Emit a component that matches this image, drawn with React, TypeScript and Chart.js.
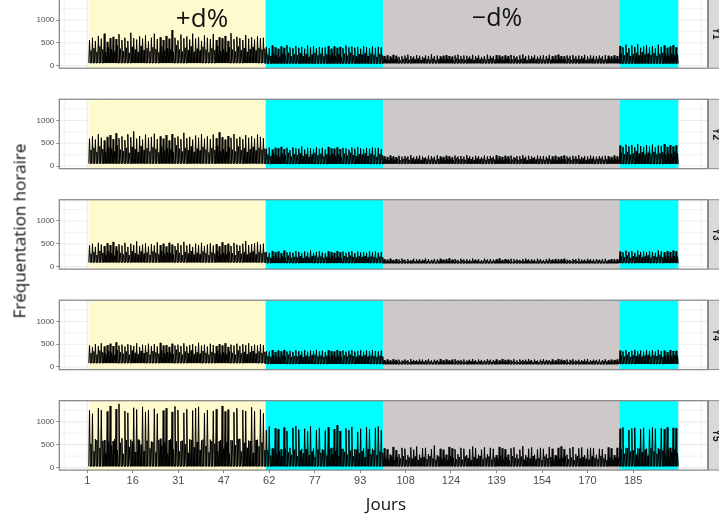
import React, { useEffect, useRef } from 'react';
import { Chart, registerables } from 'chart.js';
Chart.register(...registerables);

// ---------- data ----------
const PANEL_NAMES = ['Y1', 'Y2', 'Y3', 'Y4', 'Y5'];
const PHASE_BOUNDS = [0, 60, 100, 180, 200]; // day index boundaries
const PHASE_COLORS = ['#FFFACD', '#00FFFF', '#CDC9C9', '#00FFFF'];
const X_TICK_POS = [-0.5, 14.9, 30.4, 45.8, 61.2, 76.7, 92.1, 107.5, 122.9, 138.4, 153.8, 169.2, 184.7];
const X_TICK_LABELS = ['1', '16', '31', '47', '62', '77', '93', '108', '124', '139', '154', '170', '185'];
const Y_TICKS = [0, 500, 1000];
const ANNOT_UP = '+d%';
const ANNOT_DOWN = '\u2212d%';

// first daily peak (A) and second daily peak (B) per phase, night level per phase
const Y1_YELLOW = [560,610,540,650,590,700,520,600,630,580,690,560,610,540,720,600,570,640,590,660,530,610,700,580,620,560,650,590,780,610,550,680,600,640,570,700,590,620,540,660,610,580,690,560,620,600,650,540,710,580,630,600,560,670,590,620,570,640,600,610];
const Y1_YELLOW_B = [330,380,300,420,350,290,400,360,310,440,370,320,390,280,410,350,300,430,340,380,310,400,360,290,420,330,380,350,300,450,360,310,390,340,420,300,370,330,410,350,290,380,340,430,320,360,300,400,350,310,420,340,380,300,360,410,330,390,350,370];
const Y1_CYAN = [410,380,440,400,370,420,390,450,400,380,430,390,410,370,440,400,420,380,410,390,400,430,370,420,390,410,380,440,400,420,390,410,370,430,400,380,420,390,410,400];
const Y1_CYAN_B = [240,210,270,230,190,260,220,280,200,250,230,270,210,250,190,240,280,220,260,200,250,230,270,210,240,190,260,220,280,230,200,250,240,270,210,260,230,190,250,220];
const Y1_GRAY = [210,225,200,235,215,190,205,220,240,210,200,230,215,195,225,210,245,205,220,200,215,230,210,195,225,240,205,220,215,200,235,210,225,190,210,240,215,205,230,220,200,225,210,235,215,200,225,245,205,220,210,230,195,215,225,210,235,205,220,240,210,200,225,215,230,205,220,210,235,200,225,215,210,220,205,230,215,200,225,210];
const Y1_GRAY_B = [140,120,160,130,150,115,145,165,125,155,135,150,120,160,140,130,155,115,145,165,130,150,140,120,160,135,145,125,155,140,120,160,135,150,125,145,165,130,140,155,115,150,140,130,160,125,145,155,120,140,165,130,150,140,125,155,135,145,120,160,140,130,155,125,150,145,135,160,120,140,150,130,145,160,125,140,155,135,150,130];
const Y1_CYAN2 = [430,400,460,380,440,410,470,390,420,450,400,430,380,460,410,440,390,420,450,400];
const Y1_CYAN2_B = [260,230,280,210,250,270,220,290,240,260,230,270,210,250,280,240,220,260,230,250];
const Y1_LOW = [55, 45, 50, 45];

const Y2_YELLOW = [600,650,580,700,620,560,640,680,590,720,610,650,570,700,630,760,600,660,580,690,620,640,710,590,650,600,680,560,700,620,650,590,730,610,640,580,670,620,700,600,650,590,690,610,740,630,580,660,620,700,600,640,590,680,620,650,600,690,640,610];
const Y2_YELLOW_B = [350,400,310,430,370,300,410,380,320,450,360,330,400,290,420,370,310,440,350,390,320,410,370,300,430,340,390,360,310,460,380,320,400,350,430,310,380,340,420,360,300,390,350,440,330,370,310,410,360,320,430,350,390,310,370,420,340,400,360,380];
const Y2_CYAN = [380,410,360,400,390,420,370,400,350,410,390,380,430,360,400,390,370,410,380,400,360,420,390,380,410,370,400,390,360,410,380,420,390,370,400,380,410,390,400,370];
const Y2_CYAN_B = [250,220,280,240,200,270,230,290,210,260,240,280,220,260,200,250,290,230,270,210,260,240,280,220,250,200,270,230,290,240,210,260,250,280,220,270,240,200,260,230];
const Y2_GRAY = [215,200,230,210,195,225,205,220,210,240,200,215,230,210,195,225,215,205,235,210,200,225,215,190,230,210,220,205,240,210,200,225,215,195,230,210,220,205,235,215,200,225,210,230,195,220,215,240,205,225,210,200,230,215,220,205,235,210,225,200,215,230,210,205,225,215,240,200,220,210,230,215,205,220,210,225,215,200,230,210];
const Y2_GRAY_B = [150,130,170,140,160,125,155,175,135,165,145,160,130,170,150,140,165,125,155,175,140,160,150,130,170,145,155,135,165,150,130,170,145,160,135,155,175,140,150,165,125,160,150,140,170,135,155,165,130,150,175,140,160,150,135,165,145,155,130,170,150,140,165,135,160,155,145,170,130,150,160,140,155,170,135,150,165,145,160,140];
const Y2_CYAN2 = [450,420,470,430,460,410,480,440,420,460,430,470,410,450,440,480,420,460,430,450];
const Y2_CYAN2_B = [290,260,310,250,280,320,270,300,250,290,270,310,260,280,300,250,290,270,320,280];
const Y2_LOW = [55, 45, 50, 45];

const Y3_YELLOW = [460,500,430,520,480,450,510,470,540,440,490,460,520,430,500,470,550,450,480,510,440,490,460,530,470,500,440,520,480,450,510,470,540,460,490,430,500,470,520,450,480,510,460,490,440,530,470,500,450,520,480,460,500,560,470,490,510,540,480,500];
const Y3_YELLOW_B = [280,320,250,340,300,260,330,290,240,350,300,270,320,250,340,290,260,330,280,310,250,330,300,270,340,280,310,290,260,360,300,250,320,280,340,260,300,270,330,290,250,310,280,340,270,300,260,320,290,250,340,280,310,260,300,330,270,320,290,310];
const Y3_CYAN = [320,300,340,310,330,290,350,310,320,300,340,320,290,330,310,350,300,320,340,310,290,330,320,300,340,310,330,300,320,340,290,330,310,320,300,340,310,330,300,320];
const Y3_CYAN_B = [210,190,230,200,180,220,200,240,190,210,200,230,185,215,195,225,240,200,220,190,215,200,235,190,210,180,225,200,240,210,190,220,205,230,195,220,210,185,215,200];
const Y3_GRAY = [160,150,170,145,165,155,175,150,160,140,170,155,165,150,175,160,145,165,155,170,150,160,180,150,165,145,170,155,160,150,175,155,165,140,170,155,165,150,160,175,145,165,150,170,160,155,145,165,175,155,160,150,170,165,145,160,175,150,165,155,160,170,150,145,165,160,175,155,150,170,160,155,165,150,160,170,145,165,155,160];
const Y3_GRAY_B = [120,110,130,105,125,115,135,110,120,130,105,125,115,135,120,110,130,105,125,140,115,120,110,130,125,105,135,115,120,110,130,125,105,120,135,115,110,125,130,120,110,135,115,105,125,130,120,110,135,115,125,105,130,120,110,125,140,115,120,105,130,115,125,110,135,120,105,125,115,130,120,110,135,125,105,120,130,115,110,125];
const Y3_CYAN2 = [330,310,350,320,340,300,350,320,330,310,340,320,300,350,330,310,340,320,350,330];
const Y3_CYAN2_B = [220,200,240,190,230,210,250,200,220,240,190,230,210,245,200,220,235,205,225,215];
const Y3_LOW = [90, 75, 70, 75];

const Y4_YELLOW = [470,440,500,460,520,450,480,510,460,540,470,490,450,500,480,460,520,440,490,470,510,460,500,450,530,470,480,440,510,470,490,460,520,450,480,500,460,530,470,490,450,510,480,460,500,470,520,440,490,470,510,460,500,480,520,460,490,470,500,480];
const Y4_YELLOW_B = [300,340,270,360,320,280,350,310,260,370,320,290,340,270,360,310,280,350,300,330,270,350,320,290,360,300,330,310,280,380,320,270,340,300,360,280,320,290,350,310,270,330,300,360,290,320,280,340,310,270,360,300,330,280,320,350,290,340,310,330];
const Y4_CYAN = [350,340,370,330,360,345,375,340,355,330,365,350,340,370,335,360,345,375,340,355,330,365,350,340,370,345,360,335,355,370,340,350,365,335,360,345,370,350,340,360];
const Y4_CYAN_B = [240,220,260,230,210,250,230,270,220,240,230,260,215,245,225,255,270,230,250,220,245,230,265,220,240,210,255,230,270,240,220,250,235,260,225,250,240,215,245,230];
const Y4_GRAY = [150,165,145,170,155,160,140,165,150,175,155,145,165,160,150,170,145,160,155,175,150,165,145,160,170,150,155,165,140,160,175,150,165,155,145,170,160,150,165,145,175,155,160,150,170,145,165,155,160,175,150,165,140,160,170,155,150,165,145,175,160,150,165,155,170,145,160,150,165,175,150,160,155,165,150,170,145,160,155,165];
const Y4_GRAY_B = [115,125,105,130,120,110,135,125,105,120,130,115,125,110,135,120,105,130,115,125,110,135,120,105,125,130,115,110,135,120,125,105,130,115,120,135,110,125,105,130,120,115,135,125,110,105,130,120,115,135,105,125,110,130,120,135,115,105,125,110,130,120,105,135,115,125,110,130,120,105,125,135,115,110,130,120,125,105,135,115];
const Y4_CYAN2 = [360,340,370,330,355,375,345,360,335,370,350,365,340,375,345,360,330,370,350,355];
const Y4_CYAN2_B = [250,230,270,220,260,240,275,225,250,265,230,255,240,270,220,250,265,235,255,245];
const Y4_LOW = [85, 65, 60, 65];

const Y5_YELLOW = [1250,1180,620,1300,1260,600,1230,1350,580,1280,1396,640,1240,1200,610,1310,1270,590,1330,1220,1260,570,1290,1180,630,1250,1300,600,1220,1340,1260,580,1200,1280,620,1250,1300,1330,590,1190,1260,610,1240,1280,580,1350,1230,1270,600,1210,1300,630,1260,1240,590,1320,1230,610,1270,1190];
const Y5_YELLOW_B = [520,350,600,420,580,310,560,480,620,380,540,300,600,450,570,340,610,500,360,590,420,560,330,600,480,550,300,620,400,570,350,590,510,320,600,440,560,380,610,470,330,580,520,360,600,410,560,300,590,490,620,350,540,430,580,320,600,460,550,380];
const Y5_CYAN = [820,900,420,860,840,400,880,800,430,870,910,830,410,850,790,900,420,820,870,400,810,880,430,840,930,800,410,860,820,890,400,780,850,420,880,840,410,870,900,820];
const Y5_CYAN_B = [380,260,400,300,360,240,410,330,280,390,250,370,310,400,270,350,230,390,320,380,260,410,290,360,240,400,340,280,370,250,390,310,360,230,400,290,380,270,350,320];
const Y5_GRAY = [420,400,280,450,380,290,430,410,270,440,390,460,280,420,430,290,400,480,270,410,390,280,450,420,400,290,430,410,270,400,460,420,280,390,440,290,430,410,270,450,420,400,280,420,440,290,390,470,270,410,440,280,400,430,410,290,450,410,270,430,460,400,280,420,450,290,420,440,270,410,430,420,280,410,400,290,440,420,270,430];
const Y5_GRAY_B = [210,180,240,160,230,200,250,170,220,190,240,160,210,230,180,250,200,170,240,190,220,160,250,210,180,230,170,240,200,160,230,190,250,180,210,240,170,220,200,260,180,230,160,250,210,190,240,170,220,200,250,180,210,160,240,200,230,170,250,190,210,240,180,220,160,250,200,230,190,170,240,210,180,250,200,160,230,190,220,210];
const Y5_CYAN2 = [850,880,430,820,860,870,420,840,870,410,830,880,850,420,860,840,880,430,870,860];
const Y5_CYAN2_B = [400,300,420,350,380,280,410,330,390,260,420,350,300,400,370,280,410,340,390,310];
const Y5_LOW = [25, 25, 25, 25];

const PANEL_PEAKS_A = [
  [Y1_YELLOW, Y1_CYAN, Y1_GRAY, Y1_CYAN2],
  [Y2_YELLOW, Y2_CYAN, Y2_GRAY, Y2_CYAN2],
  [Y3_YELLOW, Y3_CYAN, Y3_GRAY, Y3_CYAN2],
  [Y4_YELLOW, Y4_CYAN, Y4_GRAY, Y4_CYAN2],
  [Y5_YELLOW, Y5_CYAN, Y5_GRAY, Y5_CYAN2],
];
const PANEL_PEAKS_B = [
  [Y1_YELLOW_B, Y1_CYAN_B, Y1_GRAY_B, Y1_CYAN2_B],
  [Y2_YELLOW_B, Y2_CYAN_B, Y2_GRAY_B, Y2_CYAN2_B],
  [Y3_YELLOW_B, Y3_CYAN_B, Y3_GRAY_B, Y3_CYAN2_B],
  [Y4_YELLOW_B, Y4_CYAN_B, Y4_GRAY_B, Y4_CYAN2_B],
  [Y5_YELLOW_B, Y5_CYAN_B, Y5_GRAY_B, Y5_CYAN2_B],
];
const PANEL_LOW = [Y1_LOW, Y2_LOW, Y3_LOW, Y4_LOW, Y5_LOW];

// ---------- layout ----------
const W = 719;
const CANVAS_TOP = -20;
const CANVAS_H = 559;
const PLOT_LEFT = 59.3;
const PLOT_RIGHT = 707.7;
const PANEL_TOP0 = -1.2;
const PANEL_STEP = 100.47;
const PANEL_H = 69.4;
const X_AXIS_H = 24;

const X_MIN = -10, X_MAX = 210, Y_MIN = -58, Y_MAX = 1466;

function buildPoints(p: number) {
  const pts: { x: number; y: number }[] = [];
  const phasesA = PANEL_PEAKS_A[p];
  const phasesB = PANEL_PEAKS_B[p];
  for (let k = 0; k < phasesA.length; k++) {
    const a = phasesA[k];
    const b = phasesB[k];
    const start = PHASE_BOUNDS[k];
    const len = PHASE_BOUNDS[k + 1] - start;
    const w = len / a.length;
    const lo = PANEL_LOW[p][k];
    for (let i = 0; i < a.length; i++) {
      const d = start + i * w;
      pts.push({ x: d, y: lo });
      pts.push({ x: d + 0.25 * w, y: a[i] });
      pts.push({ x: d + 0.5 * w, y: lo });
      pts.push({ x: d + 0.75 * w, y: b[i] });
    }
  }
  pts.push({ x: PHASE_BOUNDS[PHASE_BOUNDS.length - 1], y: PANEL_LOW[p][3] });
  return pts;
}

function makePanelPlugin(p: number) {
  return {
    id: 'panelDeco' + p,
    beforeDatasetsDraw(chart: any) {
      const { ctx, chartArea: a, scales } = chart;
      const xs = scales.x, ys = scales.y;
      ctx.save();
      ctx.beginPath();
      ctx.rect(a.left, a.top, a.right - a.left, a.bottom - a.top);
      ctx.clip();
      ctx.fillStyle = '#ffffff';
      ctx.fillRect(a.left, a.top, a.right - a.left, a.bottom - a.top);
      // grid lines
      const step = X_TICK_POS[1] - X_TICK_POS[0];
      ctx.strokeStyle = '#EBEBEB';
      for (let v = 250; v <= 1250; v += 500) {
        const y = ys.getPixelForValue(v);
        ctx.lineWidth = 0.6;
        ctx.beginPath(); ctx.moveTo(a.left, y); ctx.lineTo(a.right, y); ctx.stroke();
      }
      for (let v = 0; v <= 1000; v += 500) {
        const y = ys.getPixelForValue(v);
        ctx.lineWidth = 1.1;
        ctx.beginPath(); ctx.moveTo(a.left, y); ctx.lineTo(a.right, y); ctx.stroke();
      }
      const vlines: [number, number][] = [];
      X_TICK_POS.forEach((t) => { vlines.push([t, 1.1]); vlines.push([t + step / 2, 0.6]); });
      vlines.push([X_TICK_POS[0] - step / 2, 0.6]);
      vlines.push([X_TICK_POS[X_TICK_POS.length - 1] + step, 1.1]);
      vlines.push([X_TICK_POS[X_TICK_POS.length - 1] + step * 1.5, 0.6]);
      vlines.forEach(([v, lw]) => {
        const x = xs.getPixelForValue(v);
        ctx.lineWidth = lw;
        ctx.beginPath(); ctx.moveTo(x, a.top); ctx.lineTo(x, a.bottom); ctx.stroke();
      });
      // phase backgrounds
      for (let k = 0; k < PHASE_COLORS.length; k++) {
        const x0 = xs.getPixelForValue(PHASE_BOUNDS[k]);
        const x1 = xs.getPixelForValue(PHASE_BOUNDS[k + 1]);
        ctx.fillStyle = PHASE_COLORS[k];
        ctx.fillRect(x0, a.top, x1 - x0, a.bottom - a.top);
      }
      ctx.restore();
    },
    afterDatasetsDraw(chart: any) {
      const { ctx, chartArea: a } = chart;
      ctx.save();
      // panel border
      ctx.strokeStyle = '#8a8a8a';
      ctx.lineWidth = 1.3;
      ctx.strokeRect(a.left, a.top, a.right - a.left, a.bottom - a.top);
      // strip
      const sx = a.right + 0.8;
      ctx.fillStyle = '#D9D9D9';
      ctx.fillRect(sx, a.top, 30, a.bottom - a.top);
      ctx.strokeStyle = '#8a8a8a';
      ctx.lineWidth = 1;
      ctx.strokeRect(sx, a.top, 30, a.bottom - a.top);
      ctx.translate(716, (a.top + a.bottom) / 2);
      ctx.rotate(Math.PI / 2);
      ctx.fillStyle = '#1A1A1A';
      ctx.font = 'bold 10px "Liberation Sans", Arial, sans-serif';
      ctx.textAlign = 'center';
      ctx.textBaseline = 'middle';
      ctx.fillText(PANEL_NAMES[p], 0, 0);
      ctx.restore();
    },
  };
}

function Panel({ index }: { index: number }) {
  const ref = useRef<HTMLCanvasElement | null>(null);
  useEffect(() => {
    if (!ref.current) return;
    const panelTop = PANEL_TOP0 + PANEL_STEP * index;
    const panelBottom = panelTop + PANEL_H;
    const showX = index === PANEL_NAMES.length - 1;
    const padTop = panelTop - CANVAS_TOP;
    const padBottom = CANVAS_TOP + CANVAS_H - panelBottom - (showX ? X_AXIS_H : 0);
    const tickFont = { family: '"Liberation Sans", Arial, sans-serif' };
    const chart = new Chart(ref.current, {
      type: 'line',
      data: {
        datasets: [
          {
            data: buildPoints(index),
            borderColor: '#000000',
            borderWidth: 1,
            pointRadius: 0,
            tension: 0,
            fill: false,
          },
        ],
      },
      options: {
        responsive: false,
        animation: false,
        events: [],
        parsing: false,
        normalized: true,
        layout: { padding: { top: padTop, bottom: padBottom, left: 0, right: W - PLOT_RIGHT } },
        plugins: { legend: { display: false }, tooltip: { enabled: false }, title: { display: false } },
        scales: {
          x: {
            type: 'linear',
            display: showX,
            min: X_MIN,
            max: X_MAX,
            afterBuildTicks: (s: any) => { s.ticks = X_TICK_POS.map((v) => ({ value: v })); },
            afterFit: (s: any) => { s.height = showX ? X_AXIS_H : 0; },
            ticks: {
              autoSkip: false,
              maxRotation: 0,
              padding: 1,
              color: '#4D4D4D',
              font: { ...tickFont, size: 11 },
              callback: (_v: any, i: number) => X_TICK_LABELS[i],
            },
            grid: { drawOnChartArea: false, drawTicks: true, tickLength: 3, tickColor: '#555555', lineWidth: 0.7 },
            border: { display: false },
          },
          y: {
            type: 'linear',
            min: Y_MIN,
            max: Y_MAX,
            afterBuildTicks: (s: any) => { s.ticks = Y_TICKS.map((v) => ({ value: v })); },
            afterFit: (s: any) => { s.width = PLOT_LEFT; },
            ticks: {
              padding: 2,
              color: '#4D4D4D',
              font: { ...tickFont, size: 8 },
              callback: (v: any) => String(v),
            },
            grid: { drawOnChartArea: false, drawTicks: true, tickLength: 3, tickColor: '#555555', lineWidth: 0.7 },
            border: { display: false },
          },
        },
      },
      plugins: [makePanelPlugin(index)],
    } as any);
    return () => chart.destroy();
  }, [index]);
  return (
    <canvas
      ref={ref}
      width={W}
      height={CANVAS_H}
      style={{ position: 'absolute', left: 0, top: CANVAS_TOP, width: W, height: CANVAS_H, display: 'block' }}
    />
  );
}

const titleFont = '"Open Sans", "Liberation Sans", Arial, sans-serif';

export default function App() {
  return (
    <div
      style={{
        position: 'absolute', left: 0, top: 0, width: W, height: 519,
        overflow: 'hidden', background: '#ffffff',
      }}
    >
      {PANEL_NAMES.map((_, i) => <Panel key={i} index={i} />)}
      <div
        style={{
          position: 'absolute', left: 19, top: 231, transform: 'translate(-50%, -50%) rotate(-90deg)',
          whiteSpace: 'nowrap', fontFamily: titleFont, fontSize: 17, color: '#111',
        }}
      >
        Fréquentation horaire
      </div>
      <div
        style={{
          position: 'absolute', left: 386, top: 503, transform: 'translate(-50%, -50%)',
          whiteSpace: 'nowrap', fontFamily: titleFont, fontSize: 17, color: '#111',
        }}
      >
        Jours
      </div>
      <div
        style={{
          position: 'absolute', left: 202, top: 17, transform: 'translate(-50%, -50%)',
          whiteSpace: 'nowrap', fontFamily: titleFont, fontSize: 26, color: '#111',
        }}
      >
        {ANNOT_UP}
      </div>
      <div
        style={{
          position: 'absolute', left: 497, top: 16, transform: 'translate(-50%, -50%)',
          whiteSpace: 'nowrap', fontFamily: titleFont, fontSize: 25, color: '#111',
        }}
      >
        {ANNOT_DOWN}
      </div>
    </div>
  );
}
